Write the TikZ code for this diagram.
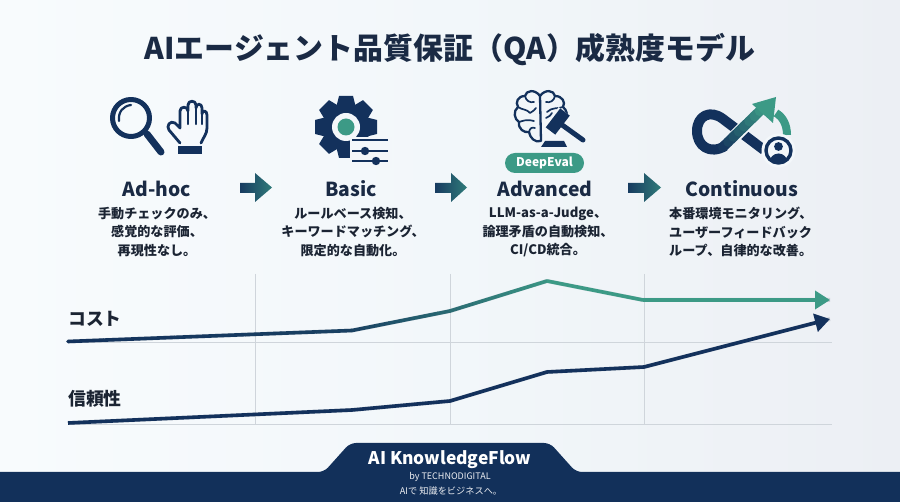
\documentclass[tikz,border=0pt]{standalone}
\usepackage{fontspec}
\usepackage{tikz}
\usetikzlibrary{arrows.meta,calc}
\setmainfont{Noto Sans CJK JP}
\definecolor{navy}{HTML}{13315C}
\definecolor{deep}{HTML}{1A2A44}
\definecolor{tealc}{HTML}{3C9A86}
\definecolor{inkc}{HTML}{1B2433}
\definecolor{gridc}{HTML}{CFD5DB}
\definecolor{bgc}{HTML}{F3F7FA}
\definecolor{bandc}{HTML}{12305A}
\definecolor{bgleft}{HTML}{F8FBFD}
\definecolor{bgmid}{HTML}{F2F7FA}
\definecolor{bgright}{HTML}{ECEFF4}
\tikzset{
  x=1pt,y=-1pt,
  titletext/.style={font=\fontsize{29.9}{34}\selectfont\bfseries,text=deep,inner sep=0pt},
  stagetitle/.style={font=\fontsize{19.3}{24}\selectfont\bfseries,text=deep,inner sep=0pt},
  stagebody/.style={font=\fontsize{13.1}{18.5}\selectfont\bfseries,text=inkc,inner sep=0pt,align=center},
  rowlabel/.style={font=\fontsize{17.8}{20}\selectfont\bfseries,text=inkc,inner sep=0pt,anchor=west},
  gridline/.style={draw=gridc,line width=0.7pt},
  shadowline/.style={draw=black!50!navy,opacity=0.14,line width=4pt,line join=round},
  iconline/.style={draw=navy,line cap=round,line join=round},
  flowarrow/.style={left color=navy!90!tealc,right color=tealc!70!navy},
}
% gradient stroke between two named points: from navy share #3 to navy share #4
\newcommand{\gradseg}[5]{%
  \foreach \st in {0,...,7}{%
    \pgfmathsetmacro{\mixv}{#3+(#4-#3)*(\st+0.5)/8}%
    \pgfmathsetmacro{\tA}{\st/8}%
    \pgfmathsetmacro{\tB}{(\st+1)/8}%
    \draw[draw=navy!\mixv!tealc,line width=#5,line cap=round] ($(#1)!\tA!(#2)$) -- ($(#1)!\tB!(#2)$);
  }}
\begin{document}
\begin{tikzpicture}
\useasboundingbox (0,0) rectangle (900,502);
\shade[left color=bgleft,right color=bgright,middle color=bgmid] (0,0) rectangle (900,502);

% title
\node[titletext] (title) at (450,50) {AIエージェント品質保証（QA）成熟度モデル};

% icon 1: magnifier
\draw[iconline,line width=5pt] (131,118) circle (18.5);
\draw[iconline,line width=2.2pt] (119,121) .. controls (118,112) and (123,106) .. (131,105);
\draw[iconline,line width=7pt] (147,134) -- (161,152);
% icon 1: hand
\draw[iconline,line width=2.8pt]
  (180,143) -- (169,130) .. controls (166,126) and (170,120) .. (175,123) -- (180,128)
  -- (180,111) .. controls (180,106) and (188,106) .. (188,111)
  -- (188,105) .. controls (188,100) and (196,100) .. (196,105)
  -- (196,108) .. controls (196,103) and (202,103) .. (202,108)
  -- (202,114) .. controls (202,110) and (207,110) .. (207,115)
  -- (207,128) .. controls (207,134) and (203,138) .. (201,143);
\draw[iconline,line width=2.2pt] (188,110) -- (188,124) (196,107) -- (196,124) (202,112) -- (202,124);
\fill[navy] (178,146) rectangle (202,154);

% icon 2: gear
\foreach \a in {0,45,...,315}{
  \fill[navy,rotate around={\a:(346,127)}] (339,96) -- (353,96) -- (356,108) -- (336,108) -- cycle;
}
\fill[navy] (346,127) circle (23);
\fill[bgc] (346,127) circle (14);
\fill[tealc] (346,127) circle (8.5);
\fill[bgc] (350,137) rectangle (392,168);
\draw[navy,line width=2.4pt] (352,140) -- (388,140);
\draw[navy,line width=2.4pt] (352,151) -- (388,151);
\draw[navy,line width=2.4pt] (352,161) -- (388,161);
\fill[navy] (365,151) circle (4.2) (376,161) circle (4.2);

% icon 3: brain
\draw[iconline,line width=2.3pt]
  (540,96) .. controls (535,89) and (526,90) .. (525,96)
  .. controls (518,96) and (515,102) .. (518,107)
  .. controls (513,111) and (514,119) .. (519,122)
  .. controls (518,129) and (524,133) .. (529,132)
  .. controls (530,138) and (535,143) .. (541,141)
  -- (540,96)
  .. controls (545,89) and (554,90) .. (555,96)
  .. controls (562,96) and (566,102) .. (563,107)
  .. controls (567,110) and (568,116) .. (566,120);
\draw[iconline,line width=1.7pt]
  (525,96) .. controls (526,101) and (530,103) .. (534,102)
  (518,107) .. controls (522,110) and (527,109) .. (530,113)
  (530,113) .. controls (533,111) and (535,110) .. (536,108)
  (519,122) .. controls (523,121) and (526,119) .. (534,121)
  (529,132) .. controls (530,128) and (532,127) .. (535,128)
  (555,96) .. controls (554,101) and (550,103) .. (546,102)
  (563,107) .. controls (558,109) and (552,107) .. (547,112)
  (546,118) .. controls (549,117) and (551,115) .. (552,113);
% icon 3: gavel
\draw[bgc,line width=16pt] (550.5,131) -- (565,112);
\draw[navy,line width=12pt] (550.5,131) -- (565,112);
\draw[navy,line width=5pt,line cap=round] (558,122) -- (583,140);
\fill[navy] (545,141) -- (564,141) -- (567,147) -- (541,147) -- cycle;

% pill
\node[draw=none,fill=tealc,rounded corners=10pt,minimum width=79pt,minimum height=20pt,inner sep=0pt,
      font=\fontsize{12}{14}\selectfont\bfseries,text=white] (pill) at (544.5,163) {DeepEval};

% icon 4: continuous
\coordinate (loopA) at (723,147);
\coordinate (tipA) at (765,106);
\draw[draw=navy,line width=10pt,line join=round]
  (725,146) .. controls (710,155) and (697,146) .. (697,131)
  .. controls (697,116) and (710,109) .. (723,119) -- (764,150);
\draw[bgc,line width=13pt] (735,136) -- (750,121);
\gradseg{loopA}{tipA}{100}{0}{10pt}
\fill[tealc] (776,97) -- (773,123) -- (752,104) -- cycle;
\draw[tealc,line width=8pt] (776,113) .. controls (783,117) and (787,125) .. (787,135);
\fill[bgc] (778.5,150.5) circle (17);
\draw[navy,line width=3.4pt] (778.5,150.5) circle (12.5);
\fill[navy] (778.5,146.5) circle (4.4);
\begin{scope}
  \clip (778.5,150.5) circle (12);
  \fill[navy] (778.5,162.5) ellipse (9 and 9);
\end{scope}

% stage titles
\node[stagetitle] (t1) at (157,189) {Ad-hoc};
\node[stagetitle] (t2) at (351,189) {Basic};
\node[stagetitle] (t3) at (545,189) {Advanced};
\node[stagetitle] (t4) at (742,189) {Continuous};

% stage arrows
\shade[flowarrow] (240,183) -- (255,183) -- (255,173) -- (272,187.5) -- (255,202) -- (255,193) -- (240,193) -- cycle;
\shade[flowarrow] (435,183) -- (451,183) -- (451,173) -- (467,187.5) -- (451,202) -- (451,193) -- (435,193) -- cycle;
\shade[flowarrow] (628,183) -- (644,183) -- (644,173) -- (661,187.5) -- (644,202) -- (644,193) -- (628,193) -- cycle;

% stage bodies
\node[stagebody] (b1) at (157,232) {手動チェックのみ、\\感覚的な評価、\\再現性なし。};
\node[stagebody] (b2) at (353,232) {ルールベース検知、\\キーワードマッチング、\\限定的な自動化。};
\node[stagebody] (b3) at (548,232) {LLM-as-a-Judge、\\論理矛盾の自動検知、\\CI/CD統合。};
\node[stagebody,align=left,anchor=west] (b4) at (669,232) {本番環境モニタリング、\\ユーザーフィードバック\\ループ、自律的な改善。};

% grid
\coordinate (gh1) at (68,342); \coordinate (gh2) at (832,342);
\coordinate (gh3) at (68,424); \coordinate (gh4) at (832,424);
\draw[gridline] (gh1) -- (gh2);
\draw[gridline] (gh3) -- (gh4);
\foreach \gx in {255,450,644}{\draw[gridline] (\gx,274) -- (\gx,424);}

% row labels
\node[rowlabel] (lc) at (68,319) {コスト};
\node[rowlabel] (lr) at (68,399) {信頼性};

% cost series
\coordinate (c1) at (68,341.5);
\coordinate (c2) at (352,330.5);
\coordinate (c3) at (450,311);
\coordinate (c4) at (547,281);
\coordinate (c5) at (643,300);
\coordinate (c6) at (830,300);
\draw[shadowline,yshift=-2pt] (c1) -- (c2) -- (c3) -- (c4) -- (c5) -- (c6);
\gradseg{c1}{c2}{100}{85}{3.6pt}
\gradseg{c2}{c3}{85}{45}{3.6pt}
\gradseg{c3}{c4}{45}{5}{3.6pt}
\draw[tealc,line width=3.6pt,line join=miter] (c4) -- (c5);
\draw[tealc,line width=3.6pt,-{Triangle[length=15pt,width=18pt]}] (c5) -- (c6);

% reliability series
\coordinate (r1) at (68,423);
\coordinate (r2) at (352,410);
\coordinate (r3) at (450,401);
\coordinate (r4) at (547,372);
\coordinate (r5) at (644,367);
\coordinate (r6) at (830,319);
\draw[shadowline,yshift=-2pt] (r1) -- (r2) -- (r3) -- (r4) -- (r5) -- (r6);
\draw[navy,line width=3.6pt,line join=round,-{Triangle[length=15pt,width=18pt]}]
  (r1) -- (r2) -- (r3) -- (r4) -- (r5) -- (r6);

% footer band
\fill[bandc,rounded corners=6pt]
  (-10,472) -- (324,472) -- (350,443) -- (550,443) -- (576,472) -- (910,472) -- (910,512) -- (-10,512) -- cycle;
\node[inner sep=0pt,text=white,font=\fontsize{17.4}{20}\selectfont\bfseries] (f1) at (450,459.5) {AI KnowledgeFlow};
\node[inner sep=0pt,text=white!92!navy,font=\fontsize{9}{10}\selectfont] (f2) at (450,477) {by TECHNODIGITAL};
\node[inner sep=0pt,text=white!92!navy,font=\fontsize{9.2}{11}\selectfont] (f3) at (451,491.5) {AIで 知識をビジネスへ。};
\end{tikzpicture}
\end{document}
